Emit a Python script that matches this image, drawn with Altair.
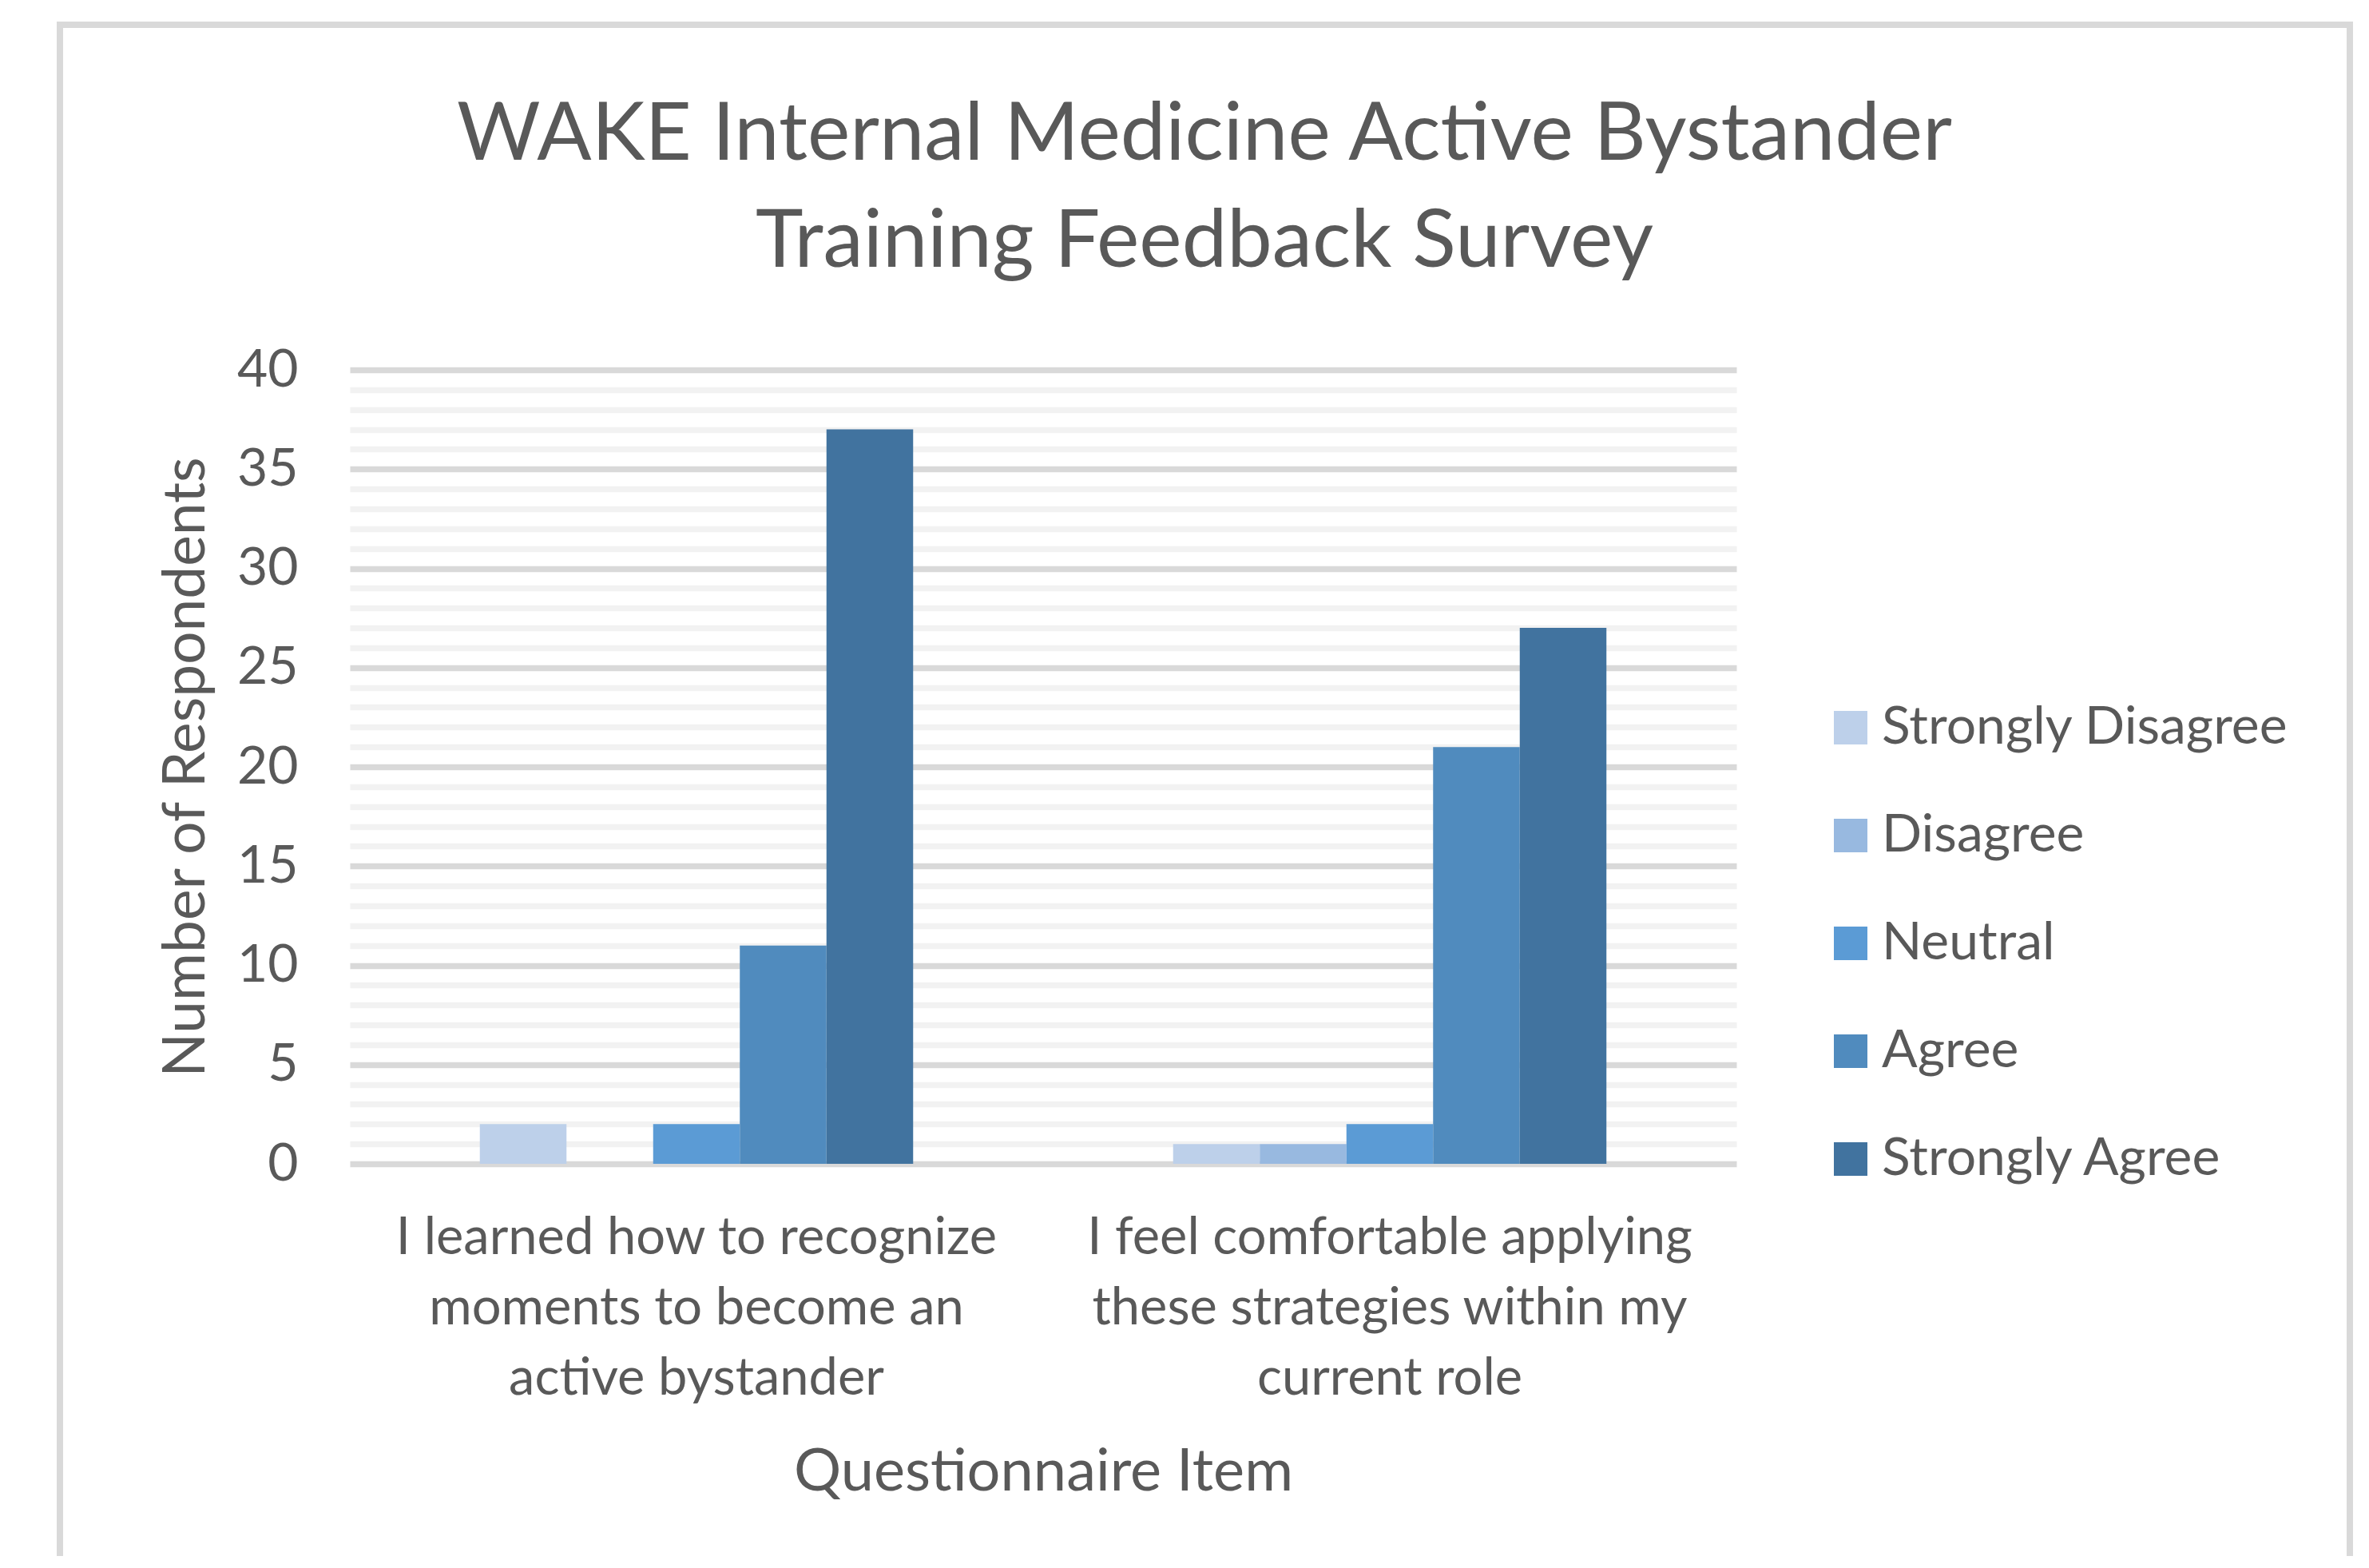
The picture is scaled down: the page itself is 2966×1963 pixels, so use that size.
import altair as alt
import pandas as pd

# ---- data ----
items = [
    "I learned how to recognize moments to become an active bystander",
    "I feel comfortable applying these strategies within my current role",
]
item_lines = [
    ["I learned how to recognize", "moments to become an", "active bystander"],
    ["I feel comfortable applying", "these strategies within my", "current role"],
]
responses = ["Strongly Disagree", "Disagree", "Neutral", "Agree", "Strongly Agree"]
colors = ["#bdd0ea", "#98b9e0", "#5b9bd5", "#508bbe", "#41739f"]
item1_counts = [2, 0, 2, 11, 37]
item2_counts = [1, 1, 2, 21, 27]
y_ticks = list(range(0, 41))

rows = []
for it, counts in zip(items, [item1_counts, item2_counts]):
    for r, c in zip(responses, counts):
        rows.append({"item": it, "response": r, "count": c})
df = pd.DataFrame(rows)

# multi-line x labels
def js_list(lines):
    return "[" + ",".join("'" + l.replace("'", "\\'") + "'" for l in lines) + "]"

label_expr = js_list(item_lines[-1])
for it, lines in reversed(list(zip(items[:-1], item_lines[:-1]))):
    label_expr = f"datum.label == '{it}' ? {js_list(lines)} : {label_expr}"

FONT = "Lato"
GREY = "#595959"
W, H = 1736, 994

bars = alt.Chart(df).mark_bar().encode(
    x=alt.X(
        "item:N",
        sort=items,
        scale=alt.Scale(paddingInner=0.375, paddingOuter=0.1875),
        axis=alt.Axis(
            title="Questionnaire Item",
            labelExpr=label_expr,
            labelAngle=0,
            labelFontSize=65,
            labelLineHeight=88,
            labelPadding=61,
            labelBaseline="top",
            labelLimit=0,
            ticks=False,
            domain=False,
            grid=False,
            titleFontSize=74,
            titleY=408,
            titleBaseline="alphabetic",
        ),
    ),
    xOffset=alt.XOffset(
        "response:N", sort=responses,
        scale=alt.Scale(paddingInner=0, paddingOuter=0),
    ),
    y=alt.Y(
        "count:Q",
        scale=alt.Scale(domain=[0, 40], nice=False),
        axis=alt.Axis(
            values=y_ticks,
            labelExpr="datum.value % 5 === 0 ? datum.label : ''",
            labelOverlap=False,
            labelFlush=False,
            grid=True,
            gridColor=alt.condition("datum.value % 5 === 0", alt.value("#d9d9d9"), alt.value("#f2f2f2")),
            gridWidth=7.5,
            ticks=False,
            domain=False,
            labelPadding=65,
            labelFontSize=66,
            title="Number of Respondents",
            titleFontSize=73,
            titleAngle=270,
            titleX=-183,
            titleY=497,
            titleAlign="center",
            titleBaseline="alphabetic",
        ),
    ),
    color=alt.Color(
        "response:N",
        sort=responses,
        scale=alt.Scale(domain=responses, range=colors),
        legend=alt.Legend(
            title=None,
            orient="none",
            legendX=1846,
            legendY=415,
            symbolType="square",
            symbolSize=1764,
            symbolStrokeWidth=0,
            symbolOpacity=1,
            labelFontSize=66,
            labelFont=FONT,
            labelColor=GREY,
            labelOffset=6,
            rowPadding=69,
            padding=0,
            labelLimit=0,
        ),
    ),
)

frame = alt.Chart(pd.DataFrame({"f": [0]})).mark_rect(
    fillOpacity=0, stroke="#d9d9d9", strokeWidth=8
).encode(
    x=alt.value(-363), x2=alt.value(2504), y=alt.value(-432), y2=alt.value(1650)
)

chart = alt.layer(frame, bars).properties(
    width=W,
    height=H,
    autosize=alt.AutoSizeParams(type="none"),
    padding={"left": 430, "top": 455, "right": 784, "bottom": 491},
    title=alt.Title(
        text=["WAKE Internal Medicine Active Bystander", "Training Feedback Survey"],
        fontSize=101,
        font=FONT,
        fontWeight="normal",
        color=GREY,
        lineHeight=134,
        anchor="middle",
        baseline="alphabetic",
        offset=0,
        dx=202,
        dy=408,
    ),
).configure_view(stroke=None).configure_axis(
    labelFont=FONT, titleFont=FONT, labelColor=GREY, titleColor=GREY,
    titleFontWeight="normal",
)

chart.save("out.html", embed_options={"renderer": "svg", "actions": False})
